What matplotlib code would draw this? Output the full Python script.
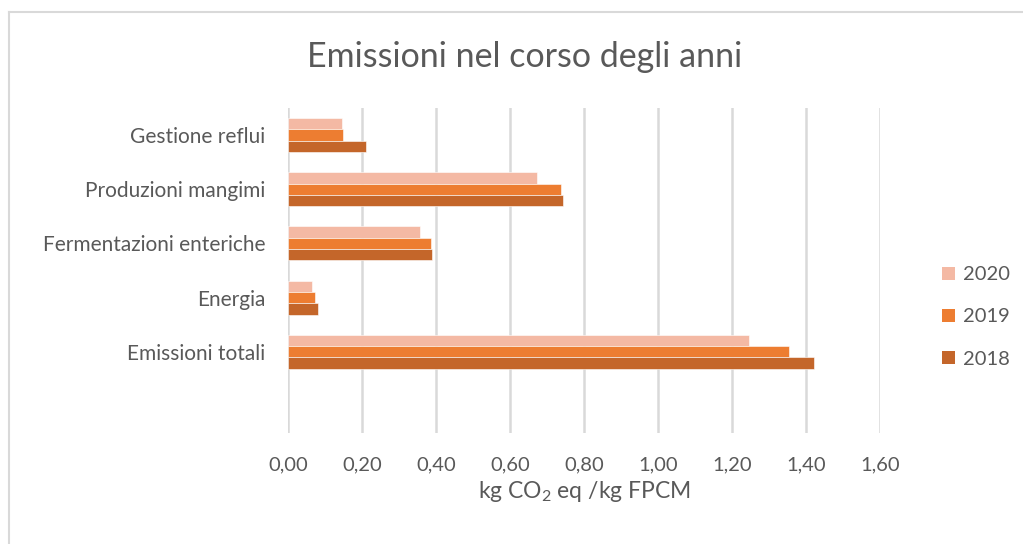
import matplotlib
matplotlib.use('Agg')
import matplotlib.pyplot as plt
from matplotlib.lines import Line2D
from matplotlib.patches import Patch
import numpy as np

plt.rcParams['font.family'] = ['Lato', 'DejaVu Sans']
plt.rcParams['mathtext.default'] = 'regular'

categories = ['Gestione reflui', 'Produzioni mangimi', 'Fermentazioni enteriche',
              'Energia', 'Emissioni totali']
v2020 = [0.146, 0.672, 0.357, 0.065, 1.247]
v2019 = [0.149, 0.739, 0.386, 0.074, 1.354]
v2018 = [0.210, 0.743, 0.388, 0.080, 1.421]
years = ['2020', '2019', '2018']
xticks = [0.0, 0.2, 0.4, 0.6, 0.8, 1.0, 1.2, 1.4, 1.6]

colors = {'2020': '#F4B9A4', '2019': '#ED7D31', '2018': '#C4662A'}
text_col = '#595959'

W, H = 1023, 544
fig = plt.figure(figsize=(W / 100, H / 100), dpi=100)
ax = fig.add_axes([288 / W, 1 - 433 / H, (880 - 288) / W, (433 - 108) / H])

y = np.arange(len(categories))
h = 0.21
for off, yr, vals in [(-h, '2020', v2020), (0, '2019', v2019), (h, '2018', v2018)]:
    ax.barh(y + off, vals, height=h, color=colors[yr], edgecolor='white',
            linewidth=0.4, zorder=3)

ax.set_ylim(5.5, -0.5)
ax.set_xlim(0, 1.6)
ax.set_xticks(xticks)
ax.set_xticklabels([f'{t:.2f}'.replace('.', ',') for t in xticks],
                   fontsize=14.5, color=text_col)
ax.set_yticks(y)
ax.set_yticklabels(categories, fontsize=15, color=text_col)
ax.tick_params(axis='both', length=0)
ax.tick_params(axis='x', pad=17)
ax.tick_params(axis='y', pad=16.5)
ax.grid(axis='x', color='#D9D9D9', linewidth=1.8, zorder=0)
for s in ax.spines.values():
    s.set_visible(False)

ax.set_xlabel('kg CO$_2$ eq /kg FPCM', fontsize=16.5, color=text_col, labelpad=4)

fig.text(525 / W, 1 - 57 / H, 'Emissioni nel corso degli anni', fontsize=24.5,
         color=text_col, ha='center', va='center')

handles = [Patch(facecolor=colors[yr], edgecolor='none') for yr in years]
fig.legend(handles, years, loc='center left', bbox_to_anchor=(924 / W, 1 - 317 / H),
           frameon=False, fontsize=14.5, handlelength=0.65, handleheight=0.65,
           handletextpad=0.4, labelspacing=1.25, labelcolor=text_col)

# outer chart frame (top and left edges visible)
fig.add_artist(Line2D([9 / W, 9 / W], [0, 1 - 12 / H], color='#D9D9D9', lw=1.5))
fig.add_artist(Line2D([9 / W, 1], [1 - 12 / H, 1 - 12 / H], color='#D9D9D9', lw=1.5))

fig.savefig('out.png', dpi=100)
